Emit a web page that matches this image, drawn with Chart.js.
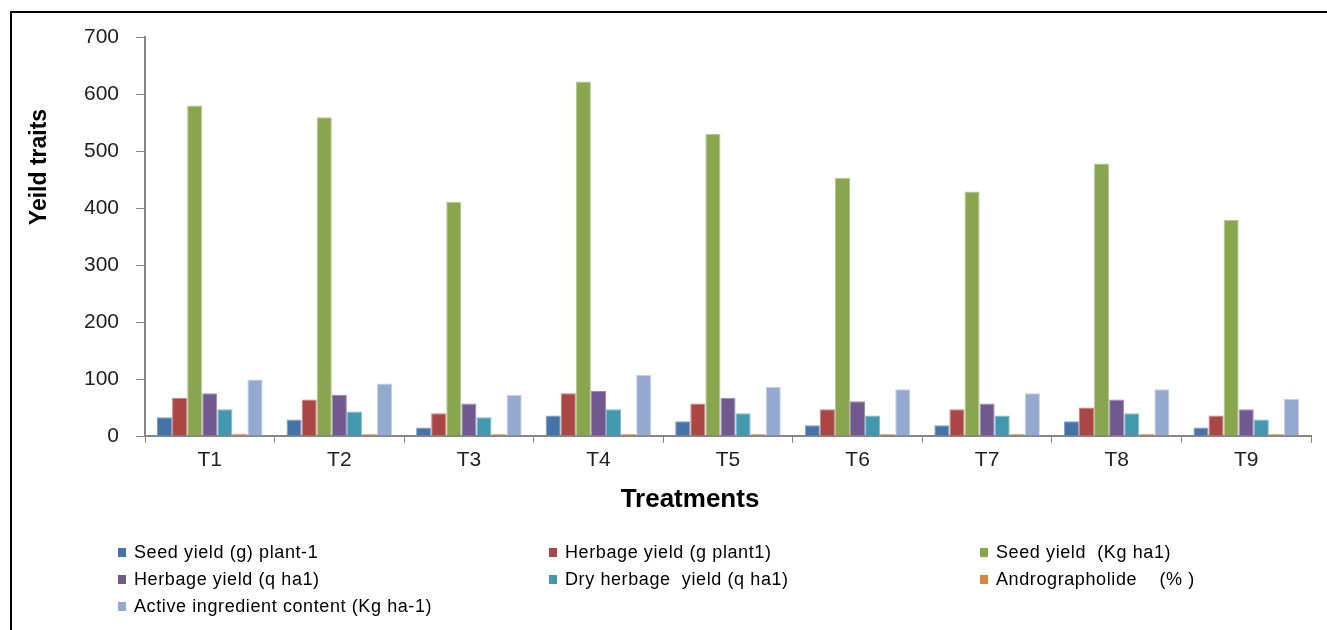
<!DOCTYPE html>
<html>
<head>
<meta charset="utf-8">
<script src="https://cdn.jsdelivr.net/npm/chart.js@4/dist/chart.umd.min.js"></script>
<style>
  html, body { margin: 0; padding: 0; background: #fff; }
  #wrap { position: relative; width: 1327px; height: 630px; overflow: hidden; }
  #frame { position: absolute; left: 10px; top: 11px; width: 1400px; height: 700px; border-left: 2px solid #000; border-top: 2px solid #000; box-sizing: border-box; pointer-events: none; }
  canvas { position: absolute; left: 0; top: 0; }
</style>
</head>
<body>
<div id="wrap">
  <canvas id="c" width="1327" height="630"></canvas>
  <div id="frame"></div>
</div>
<script>
// ---- data ----
const categories = ["T1", "T2", "T3", "T4", "T5", "T6", "T7", "T8", "T9"];
const seedYieldPlant   = [33, 29, 15, 36, 26, 19, 19, 26, 15];
const herbageYieldPlant= [67, 64, 40, 75, 57, 47, 47, 50, 36];
const seedYieldHa      = [580, 559, 411, 622, 530, 453, 429, 478, 379];
const herbageYieldHa   = [75, 72, 57, 79, 67, 61, 57, 64, 47];
const dryHerbageYield  = [47, 43, 33, 47, 40, 36, 36, 40, 29];
const andrographolide  = [4.2, 3.9, 3.6, 4.1, 3.8, 3.7, 3.9, 4.0, 3.5];
const activeIngredient = [99, 92, 72, 107, 86, 82, 75, 82, 65];
const seriesNames = [
  "Seed yield (g) plant-1",
  "Herbage yield (g plant1)",
  "Seed yield  (Kg ha1)",
  "Herbage yield (q ha1)",
  "Dry herbage  yield (q ha1)",
  "Andrographolide    (% )",
  "Active ingredient content (Kg ha-1)"
];
const yTicks = [0, 100, 200, 300, 400, 500, 600, 700];
const yTitle = "Yeild traits";
const xTitle = "Treatments";

const colors  = ["#4572A7", "#AA4643", "#89A54E", "#71588F", "#4198AF", "#DB843D", "#93A9CF"];
const borders = ["#7F9DC8", "#C98280", "#B2C78F", "#9C88B4", "#7FB9CA", "#E9AE80", "#C2D0E6"];
const seriesValues = [seedYieldPlant, herbageYieldPlant, seedYieldHa, herbageYieldHa, dryHerbageYield, andrographolide, activeIngredient];

const datasets = seriesValues.map((vals, i) => ({
  label: seriesNames[i],
  data: vals,
  backgroundColor: colors[i],
  borderColor: borders[i],
  borderWidth: 1,
  borderSkipped: 'bottom',
  categoryPercentage: 0.815,
  barPercentage: 1.0
}));

const FONT = "'Liberation Sans', Arial, sans-serif";

const overlay = {
  id: 'overlay',
  afterDraw(chart) {
    const ctx = chart.ctx;
    ctx.save();
    ctx.fillStyle = '#000';
    ctx.font = "bold 23px " + FONT;
    ctx.textAlign = 'center';
    ctx.textBaseline = 'middle';
    ctx.translate(40, 167);
    ctx.rotate(-Math.PI / 2);
    ctx.fillText(yTitle, 0, 0);
    ctx.restore();

    ctx.save();
    ctx.fillStyle = '#000';
    ctx.font = "bold 26px " + FONT;
    ctx.textAlign = 'center';
    ctx.textBaseline = 'middle';
    ctx.fillText(xTitle, 690, 500);
    ctx.restore();

    // legend
    ctx.save();
    ctx.font = "18px " + FONT;
    try { ctx.letterSpacing = '0.6px'; } catch (e) {}
    ctx.textAlign = 'left';
    ctx.textBaseline = 'middle';
    const colX = [118, 549, 980];
    const rowY = [552, 579, 606];
    seriesNames.forEach((name, i) => {
      const col = i % 3, row = Math.floor(i / 3);
      const x = colX[col], y = rowY[row];
      ctx.fillStyle = colors[i];
      ctx.fillRect(x, y - 4, 8, 9);
      ctx.fillStyle = '#000';
      ctx.fillText(name, x + 16, y + 1);
    });
    ctx.restore();
  }
};

new Chart(document.getElementById('c'), {
  type: 'bar',
  data: { labels: categories, datasets },
  options: {
    responsive: false,
    animation: false,
    layout: { padding: { left: 0, right: 16, top: 37, bottom: 154 } },
    plugins: { legend: { display: false }, tooltip: { enabled: false } },
    scales: {
      x: {
        grid: { display: true, drawOnChartArea: false, offset: true, tickLength: 7, color: '#868686', lineWidth: 1 },
        border: { display: true, color: '#868686', width: 2 },
        ticks: { color: '#222', font: { family: FONT, size: 21 }, padding: 5 },
        afterFit(s) { s.height = 40; }
      },
      y: {
        min: 0, max: 700,
        afterBuildTicks(s) { s.ticks = yTicks.map(v => ({ value: v })); },
        grid: { display: true, drawOnChartArea: false, tickLength: 9, color: '#868686', lineWidth: 1 },
        border: { display: true, color: '#868686', width: 2 },
        ticks: { color: '#222', font: { family: FONT, size: 21 }, padding: 17 },
        afterFit(s) { s.width = 145; }
      }
    }
  },
  plugins: [overlay]
});
</script>
</body>
</html>
